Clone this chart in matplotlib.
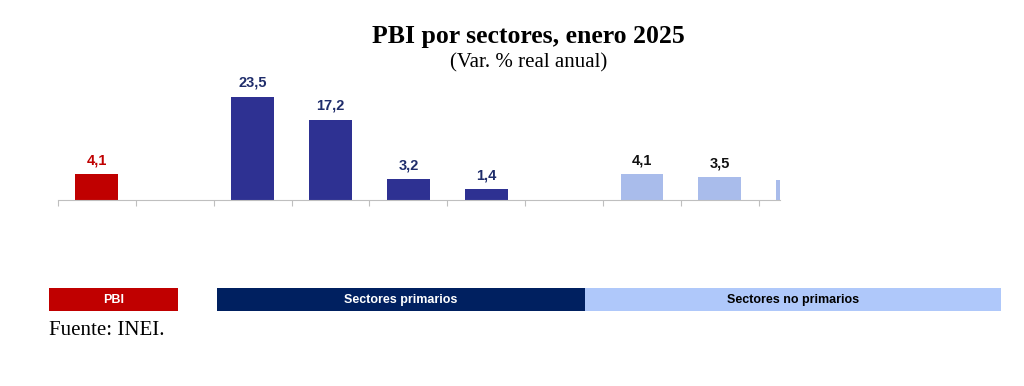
import numpy as np
import matplotlib.pyplot as plt
from matplotlib.patches import Rectangle

# Datos (Var. % real anual), huecos = None
valores = [4.1, None, 23.5, 17.2, 3.2, 1.4, None, 4.1, 3.5, 3.0]
grupos = ["pbi", None, "prim", "prim", "prim", "prim", None, "noprim", "noprim", "noprim"]
etiquetas = ["4,1", "", "23,5", "17,2", "3,2", "1,4", "", "4,1", "3,5", ""]

color_barra = {"pbi": "#C00000", "prim": "#2E3192", "noprim": "#A9BCEB"}
color_texto = {"pbi": "#C00000", "prim": "#1F2D6B", "noprim": "#111111"}

leyenda_txt = ["PBI", "Sectores primarios", "Sectores no primarios"]
leyenda_col = ["#C00000", "#002060", "#AFC8FA"]
leyenda_fg = ["white", "white", "black"]

sans = ["Liberation Sans Narrow", "Liberation Sans", "DejaVu Sans"]
serif = ["Liberation Serif", "DejaVu Serif"]

fig = plt.figure(figsize=(10.24, 3.86), dpi=100)
ax = fig.add_axes([0.0566, 0.482, 0.705, 0.285])

p = 0.8
ax.set_yscale("function", functions=(lambda v: np.sign(v) * np.abs(v) ** p,
                                      lambda v: np.sign(v) * np.abs(v) ** (1 / p)))

x = np.arange(len(valores))
for xi, v, g, lab in zip(x, valores, grupos, etiquetas):
    if v is None:
        continue
    ax.bar(xi, v, width=0.55, color=color_barra[g], zorder=2)
    if lab:
        ax.annotate(lab, (xi, v), xytext=(0, 5), textcoords="offset points",
                    ha="center", va="bottom", fontsize=10.5, fontweight="bold",
                    color=color_texto[g], family=sans)

ax.set_xlim(-0.5, 8.77)
ax.set_ylim(0, 25.5)
for s in ["top", "right", "left"]:
    ax.spines[s].set_visible(False)
ax.spines["bottom"].set_color("#BFBFBF")
ax.set_yticks([])
ax.set_xticks(np.arange(-0.5, 9, 1))
ax.set_xticklabels([])
ax.tick_params(axis="x", length=4, color="#BFBFBF", direction="out")

fig.text(0.516, 0.906, "PBI por sectores, enero 2025", ha="center", va="center",
         fontsize=18.5, fontweight="bold", family=serif)
fig.text(0.516, 0.836, "(Var. % real anual)", ha="center", va="center",
         fontsize=15, family=serif)

# Barras de leyenda inferiores
caja = [(49, 178), (217, 585), (585, 1001)]
y0, h = 0.194, 0.0596
for (a, b), t, c, fg in zip(caja, leyenda_txt, leyenda_col, leyenda_fg):
    fig.add_artist(Rectangle((a / 1024, y0), (b - a) / 1024, h,
                             transform=fig.transFigure, color=c, lw=0))
    fig.text((a + b) / 2 / 1024, y0 + h / 2, t, ha="center", va="center",
             fontsize=9, fontweight="bold", color=fg, family=sans)

fig.text(49 / 1024, 0.143, "Fuente: INEI.", ha="left", va="center",
         fontsize=15, family=serif)

fig.savefig("out.png", dpi=100)
